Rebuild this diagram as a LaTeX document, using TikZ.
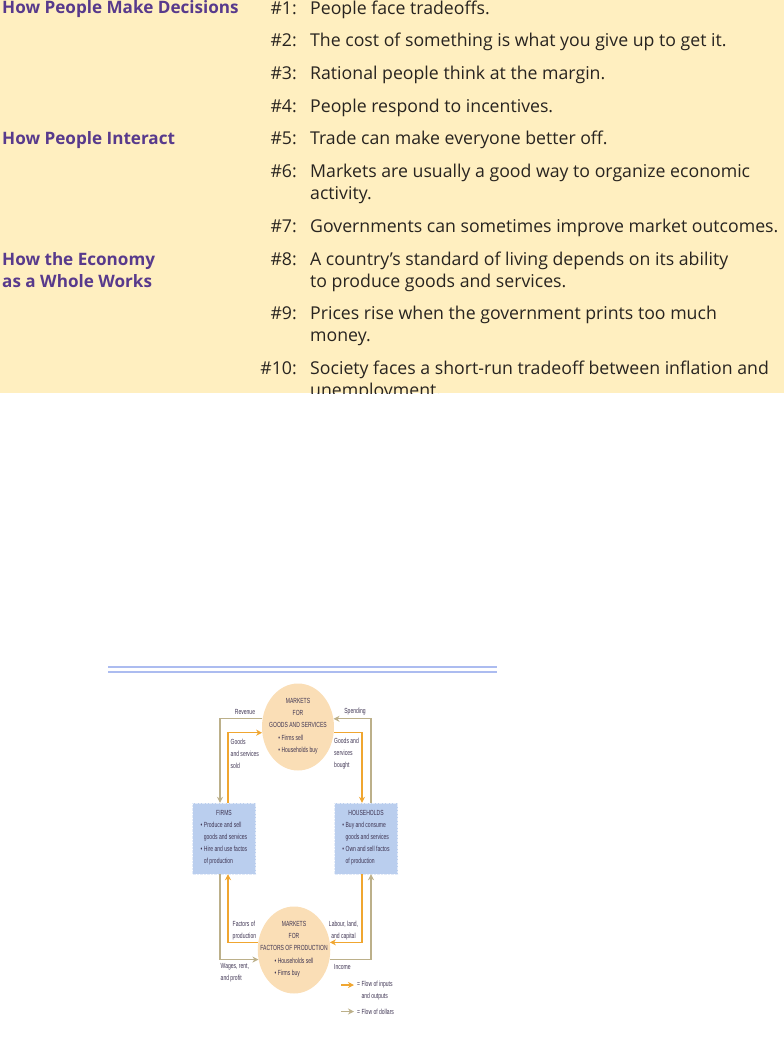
\documentclass[tikz,border=0pt]{standalone}
\usepackage{fontspec}
\setmainfont{Open Sans}
\newfontfamily\condfont[FakeStretch=0.68]{Liberation Sans}
\usetikzlibrary{arrows.meta,shapes.geometric}
\definecolor{ink}{RGB}{40,36,32}
\definecolor{headpurple}{RGB}{88,58,140}
\definecolor{panelfill}{RGB}{255,239,192}
\definecolor{rulefill}{RGB}{172,188,240}
\definecolor{mktfill}{RGB}{250,222,182}
\definecolor{unitfill}{RGB}{186,206,238}
\definecolor{goodsline}{RGB}{240,166,48}
\definecolor{dollarline}{RGB}{188,176,138}
\definecolor{diagink}{RGB}{62,52,82}
\def\NumX{297}
\def\TxtX{310}
\def\HeadX{2}
\tikzset{
  heading/.style={
    anchor=base west, font=\fontsize{17.1}{20}\selectfont\bfseries,
    text=headpurple, inner sep=0pt,
  },
  num/.style={
    anchor=base east, font=\fontsize{17.7}{22}\selectfont,
    text=ink, inner sep=0pt,
  },
  principle/.style={
    anchor=base west, font=\fontsize{17.7}{22}\selectfont,
    text=ink, inner sep=0pt,
  },
  market/.style={
    ellipse, fill=mktfill, minimum width=72pt, minimum height=87pt,
    inner sep=-8pt, align=center, text=diagink,
    font=\condfont\fontsize{7.4}{12.3}\selectfont,
  },
  unit/.style={
    rectangle, fill=unitfill, draw=unitfill!40!white, densely dotted,
    minimum width=63pt, minimum height=71pt, inner sep=0pt,
    align=center, text=diagink, font=\condfont\fontsize{7.4}{12}\selectfont,
  },
  flowlbl/.style={
    inner sep=0pt, align=left, text=diagink,
    font=\condfont\fontsize{7.4}{12}\selectfont,
  },
  goodsflow/.style={draw=goodsline, line width=1.3pt, -{Stealth[length=6pt,width=6pt]}},
  dollarflow/.style={draw=dollarline, line width=1.3pt, -{Stealth[length=6pt,width=6pt]}},
}
\begin{document}
\begin{tikzpicture}[x=1pt,y=-1pt]
  \useasboundingbox (0,0) rectangle (784,1060);

  % ten principles panel
  \fill[panelfill] (0,0) rectangle (784,393);
  \begin{scope}
  \clip (0,0) rectangle (784,393);
  \node[heading] (hdec) at (\HeadX,13.5) {How People Make Decisions};
  \node[heading] (hint) at (\HeadX,144.5) {How People Interact};
  \node[heading] (heco) at (\HeadX,265) {How the Economy};
  \node[heading] (hecob) at (\HeadX,287) {as a Whole Works};

  \node[num] (n1) at (\NumX,14) {\#1:};
  \node[principle] (p1) at (\TxtX,14) {People face tradeoffs.};
  \node[num] (n2) at (\NumX,46.5) {\#2:};
  \node[principle] (p2) at (\TxtX,46.5) {The cost of something is what you give up to get it.};
  \node[num] (n3) at (\NumX,79) {\#3:};
  \node[principle] (p3) at (\TxtX,79) {Rational people think at the margin.};
  \node[num] (n4) at (\NumX,112) {\#4:};
  \node[principle] (p4) at (\TxtX,112) {People respond to incentives.};
  \node[num] (n5) at (\NumX,144.5) {\#5:};
  \node[principle] (p5) at (\TxtX,144.5) {Trade can make everyone better off.};
  \node[num] (n6) at (\NumX,177.5) {\#6:};
  \node[principle] (p6) at (\TxtX,177.5) {Markets are usually a good way to organize economic};
  \node[principle] (p6b) at (\TxtX,199.5) {activity.};
  \node[num] (n7) at (\NumX,232.5) {\#7:};
  \node[principle] (p7) at (\TxtX,232.5) {Governments can sometimes improve market outcomes.};
  \node[num] (n8) at (\NumX,265) {\#8:};
  \node[principle] (p8) at (\TxtX,265) {A country’s standard of living depends on its ability};
  \node[principle] (p8b) at (\TxtX,287) {to produce goods and services.};
  \node[num] (n9) at (\NumX,319.5) {\#9:};
  \node[principle] (p9) at (\TxtX,319.5) {Prices rise when the government prints too much};
  \node[principle] (p9b) at (\TxtX,341.5) {money.};
  \node[num] (n10) at (\NumX,374) {\#10:};
  \node[principle] (p10) at (\TxtX,374) {Society faces a short-run tradeoff between inflation and};
  \node[principle] (p10b) at (\TxtX,396) {unemployment.};
  \end{scope}

  % circular flow
  \draw[rulefill, line width=2pt] (108,666.5) -- (497,666.5);
  \draw[rulefill, line width=2pt] (108,671.5) -- (497,671.5);

  \node[market] (gm) at (298,727) {MARKETS\\FOR\\GOODS AND SERVICES\\
    \begin{tabular}[t]{@{}l@{}}\textbullet~Firms sell\\\textbullet~Households buy\end{tabular}};
  \node[market, minimum width=68pt] (fm) at (294,950) {MARKETS\\FOR\\FACTORS OF PRODUCTION\\
    \begin{tabular}[t]{@{}l@{}}\textbullet~Households sell\\\textbullet~Firms buy\end{tabular}};
  \node[unit] (firms) at (224,838.5) {FIRMS\\
    \begin{tabular}[t]{@{}l@{}}\textbullet~Produce and sell\\\phantom{\textbullet~}goods and services\\
    \textbullet~Hire and use factos\\\phantom{\textbullet~}of production\end{tabular}};
  \node[unit] (hh) at (366,838.5) {HOUSEHOLDS\\
    \begin{tabular}[t]{@{}l@{}}\textbullet~Buy and consume\\\phantom{\textbullet~}goods and services\\
    \textbullet~Own and sell factos\\\phantom{\textbullet~}of production\end{tabular}};

  \draw[dollarflow] (gm.167) -| ([xshift=-4pt]firms.north);
  \draw[goodsflow] ([xshift=4pt]firms.north) |- (gm.189);
  \draw[goodsflow] (gm.351) -| ([xshift=-4pt]hh.north);
  \draw[dollarflow] ([xshift=5pt]hh.north) |- (gm.13);
  \draw[goodsflow] (fm.168) -| ([xshift=4pt]firms.south);
  \draw[dollarflow] ([xshift=-4pt]firms.south) |- (fm.195);
  \draw[goodsflow] ([xshift=-4pt]hh.south) |- (fm.12);
  \draw[dollarflow] (fm.345) -| ([xshift=5pt]hh.south);

  \node[flowlbl] (revlbl) at (245,712) {Revenue};
  \node[flowlbl] (spendlbl) at (355,712) {Spending};
  \node[flowlbl, anchor=west] (soldlbl) at (230.5,754) {Goods\\and services\\sold};
  \node[flowlbl, anchor=west] (boughtlbl) at (334,754) {Goods and\\services\\bought};
  \node[flowlbl, anchor=west] (factlbl) at (232.5,931) {Factors of\\production};
  \node[flowlbl, align=center] (labourlbl) at (343.5,931) {Labour, land,\\and capital};
  \node[flowlbl, anchor=west] (wagelbl) at (220.5,973) {Wages, rent,\\and profit};
  \node[flowlbl, anchor=west] (inclbl) at (334,967) {Income};

  % key
  \coordinate (keyga) at (341,985);
  \coordinate (keygb) at (354,985);
  \draw[goodsflow] (keyga) -- (keygb);
  \node[flowlbl, anchor=west] (keyg) at (357,991) {= Flow of inputs\\\phantom{= }and outputs};
  \coordinate (keyda) at (341,1011.5);
  \coordinate (keydb) at (354,1011.5);
  \draw[dollarflow] (keyda) -- (keydb);
  \node[flowlbl, anchor=west] (keyd) at (357,1011.5) {= Flow of dollars};
\end{tikzpicture}
\end{document}
